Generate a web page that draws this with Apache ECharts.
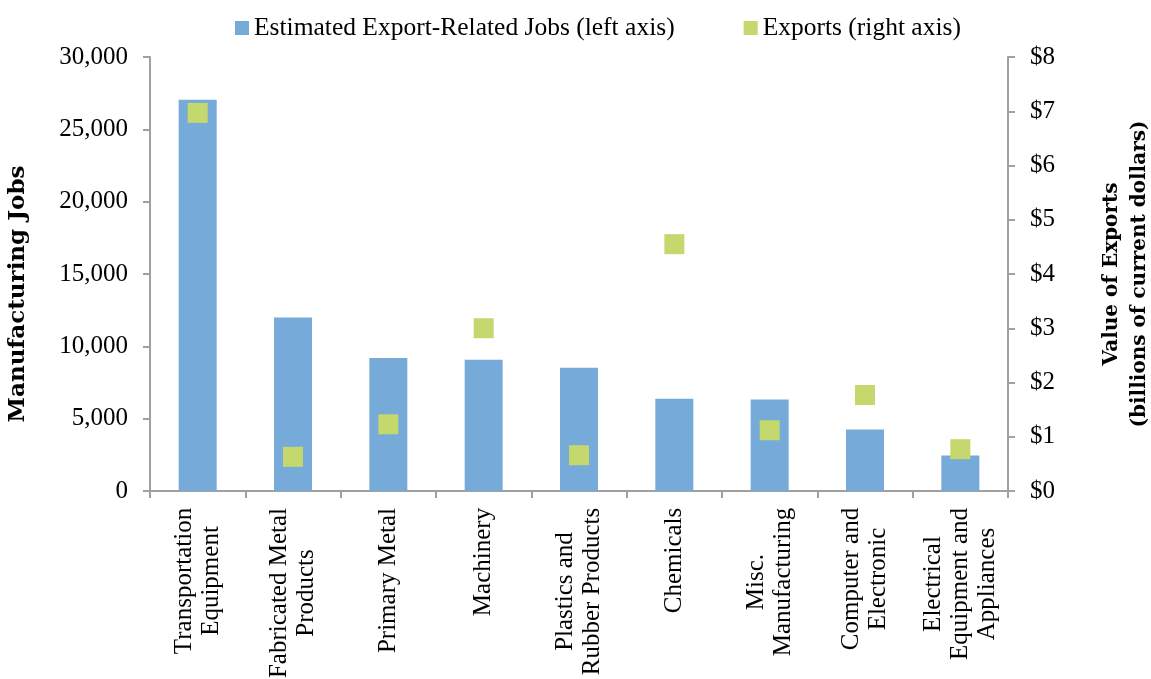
<!DOCTYPE html>
<html>
<head>
<meta charset="utf-8">
<script src="https://cdn.jsdelivr.net/npm/echarts@6/dist/echarts.min.js"></script>
<style>html,body{margin:0;padding:0;background:#fff;}#c{width:1151px;height:679px;}</style>
</head>
<body>
<div id="c"></div>
<script>
const categories = [
  'Transportation\nEquipment',
  'Fabricated Metal\nProducts',
  'Primary Metal',
  'Machinery',
  'Plastics and\nRubber Products',
  'Chemicals',
  'Misc.\nManufacturing',
  'Computer and\nElectronic',
  'Electrical\nEquipment and\nAppliances'
];
const jobs = [27050, 12000, 9200, 9080, 8520, 6380, 6320, 4250, 2450];
const exportsBn = [6.97, 0.63, 1.23, 3.0, 0.66, 4.55, 1.12, 1.77, 0.77];
const leftTicks = [0, 5000, 10000, 15000, 20000, 25000, 30000];
const rightTicks = [0, 1, 2, 3, 4, 5, 6, 7, 8];

const FONT = '"Liberation Serif", "Times New Roman", serif';
const LBL = 25;
const ctx = document.createElement('canvas').getContext('2d');
ctx.font = LBL + 'px "Liberation Serif"';
const rich = {};
categories.forEach((c, i) => {
  const w = Math.max(...c.split('\n').map(l => ctx.measureText(l).width));
  rich['c' + i] = {width: Math.ceil(w) + 1, align: 'center', fontSize: LBL, fontFamily: FONT, color: '#000', lineHeight: 27};
});

const chart = echarts.init(document.getElementById('c'), null, {renderer: 'canvas'});
const axisColor = '#a0a0a0';
chart.setOption({
  animation: false,
  textStyle: {fontFamily: FONT, color: '#000'},
  legend: {
    top: 10, left: 230, itemWidth: 14, itemHeight: 14, itemGap: 69,
    textStyle: {fontFamily: FONT, fontSize: 25.5, color: '#000'},
    data: [
      {name: 'Estimated Export-Related Jobs (left axis)', icon: 'rect'},
      {name: 'Exports (right axis)', icon: 'rect'}
    ]
  },
  grid: {left: 150, right: 143, top: 57, bottom: 188, outerBoundsMode: 'none', containLabel: false},
  xAxis: {
    type: 'category', data: categories,
    axisLine: {lineStyle: {color: axisColor, width: 2}},
    axisTick: {show: true, length: 7, lineStyle: {color: axisColor, width: 2}},
    axisLabel: {
      rotate: 90, margin: 16, interval: 0,
      formatter: (v, i) => v.split('\n').map(l => '{c' + i + '|' + l + '}').join('\n'),
      rich: rich
    }
  },
  yAxis: [
    {
      type: 'value', min: 0, max: 30000, interval: 5000, position: 'left',
      name: 'Manufacturing Jobs', nameLocation: 'middle', nameGap: 120, nameRotate: 90,
      nameTextStyle: {fontFamily: '"DejaVu Serif", serif', fontWeight: 'bold', fontSize: 23, color: '#000', padding: [0, 40, 0, 0]},
      axisLine: {show: true, lineStyle: {color: axisColor, width: 2}},
      axisTick: {show: true, length: 7, lineStyle: {color: axisColor, width: 2}},
      splitLine: {show: false},
      axisLabel: {margin: 22, fontSize: 25, fontFamily: FONT, color: '#000',
        formatter: v => v.toLocaleString('en-US')}
    },
    {
      type: 'value', min: 0, max: 8, interval: 1, position: 'right',
      name: 'Value of Exports\n(billions of current dollars)', nameLocation: 'middle', nameGap: 90, nameRotate: 90,
      nameTextStyle: {fontFamily: '"DejaVu Serif", serif', fontWeight: 'bold', fontSize: 20, color: '#000', lineHeight: 28},
      axisLine: {show: true, lineStyle: {color: axisColor, width: 2}},
      axisTick: {show: true, length: 7, lineStyle: {color: axisColor, width: 2}},
      splitLine: {show: false},
      axisLabel: {margin: 22, fontSize: 25, fontFamily: FONT, color: '#000',
        formatter: v => '$' + v}
    }
  ],
  series: [
    {
      name: 'Estimated Export-Related Jobs (left axis)', type: 'bar', yAxisIndex: 0,
      data: jobs, barWidth: 38, itemStyle: {color: '#76aad9'}
    },
    {
      name: 'Exports (right axis)', type: 'scatter', yAxisIndex: 1,
      data: exportsBn, symbol: 'rect', symbolSize: 20, itemStyle: {color: '#c4d86e', opacity: 1}
    }
  ]
});
</script>
</body>
</html>
